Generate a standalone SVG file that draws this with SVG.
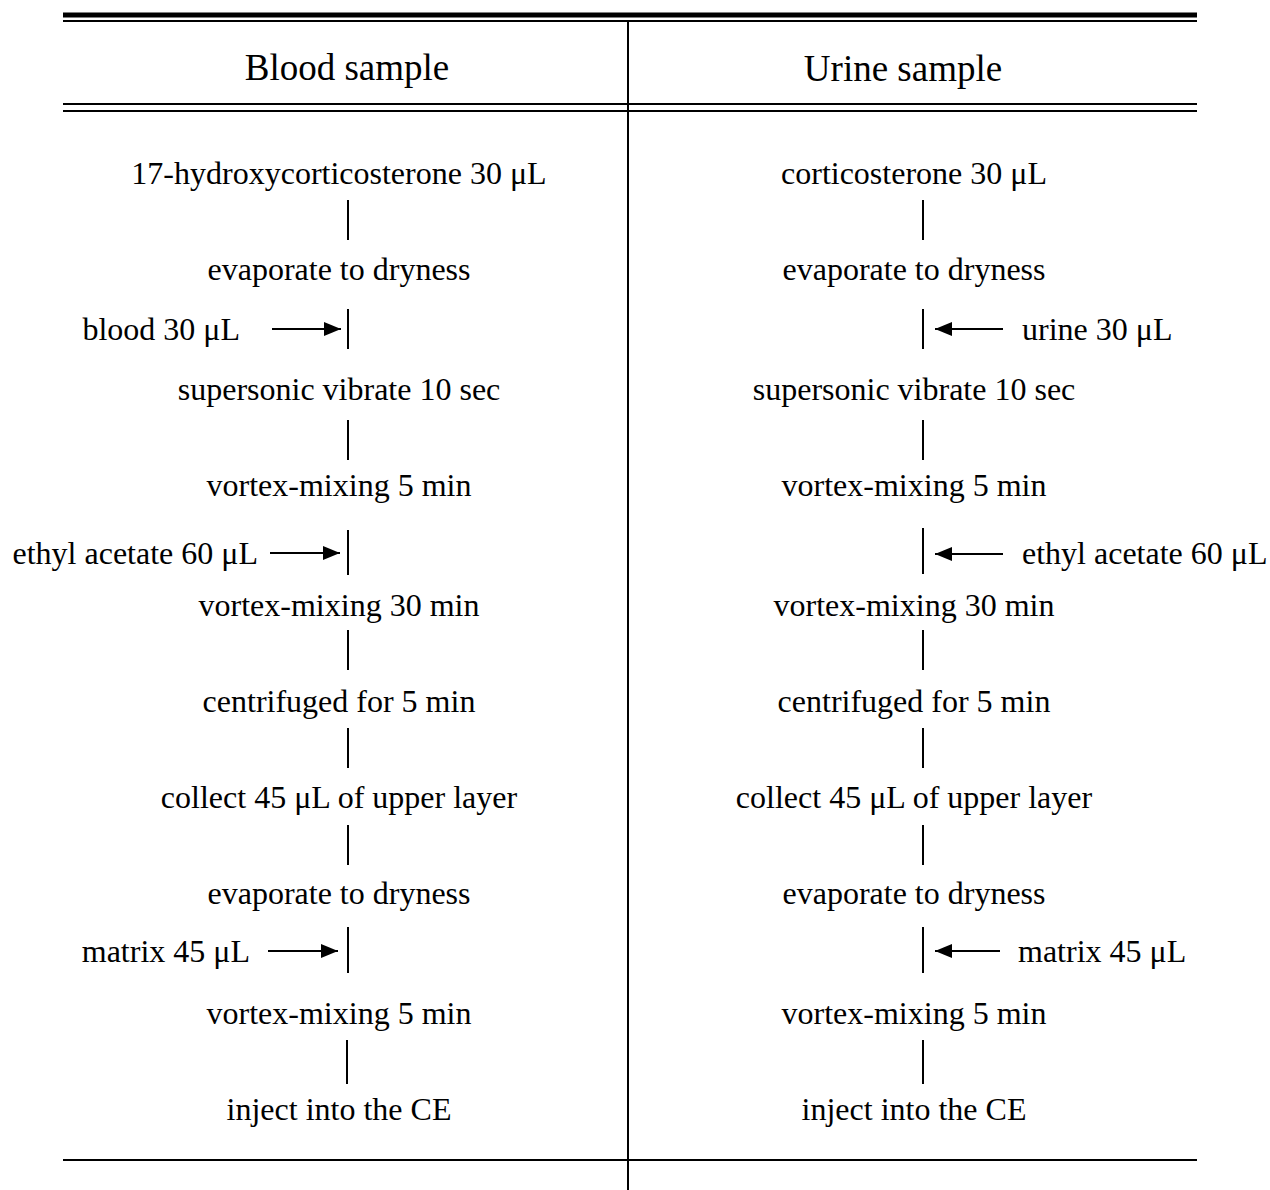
<svg xmlns="http://www.w3.org/2000/svg" width="1270" height="1190" viewBox="0 0 1270 1190">
<style>
text{font-family:"Liberation Serif","Times New Roman",serif;font-size:32px;fill:#000;text-anchor:middle}
.h{font-size:37px}
.l{text-anchor:end}
.r{text-anchor:start}
line{stroke:#000;stroke-width:2}
</style>
<defs>
<marker id="ah2" viewBox="0 0 17 14" refX="17" refY="7" markerWidth="17" markerHeight="14" markerUnits="userSpaceOnUse" orient="auto"><path d="M0,0 L17,7 L0,14 Z" fill="#000"/></marker>
</defs>
<g id="table">
<line x1="63" y1="15" x2="1197" y2="15" style="stroke-width:5"/>
<line x1="63" y1="21" x2="1197" y2="21"/>
<line x1="63" y1="104" x2="1197" y2="104"/>
<line x1="63" y1="111" x2="1197" y2="111"/>
<line x1="63" y1="1160" x2="1197" y2="1160"/>
<line x1="628" y1="20" x2="628" y2="1190"/>
</g>
<g id="header-blood"><text class="h" x="347" y="80">Blood sample</text></g>
<g id="header-urine"><text class="h" x="903" y="81">Urine sample</text></g>
<g id="blood-steps">
<text x="339" y="184">17-hydroxycorticosterone 30 μL</text>
<text x="339" y="280">evaporate to dryness</text>
<text x="339" y="400">supersonic vibrate 10 sec</text>
<text x="339" y="496">vortex-mixing 5 min</text>
<text x="339" y="616">vortex-mixing 30 min</text>
<text x="339" y="712">centrifuged for 5 min</text>
<text x="339" y="808">collect 45 μL of upper layer</text>
<text x="339" y="904">evaporate to dryness</text>
<text x="339" y="1024">vortex-mixing 5 min</text>
<text x="339" y="1120">inject into the CE</text>
</g>
<g id="blood-inputs">
<text class="l" x="240" y="340">blood 30 μL</text>
<text class="l" x="258" y="564">ethyl acetate 60 μL</text>
<text class="l" x="250" y="962">matrix 45 μL</text>
</g>
<g id="urine-steps">
<text x="914" y="184">corticosterone 30 μL</text>
<text x="914" y="280">evaporate to dryness</text>
<text x="914" y="400">supersonic vibrate 10 sec</text>
<text x="914" y="496">vortex-mixing 5 min</text>
<text x="914" y="616">vortex-mixing 30 min</text>
<text x="914" y="712">centrifuged for 5 min</text>
<text x="914" y="808">collect 45 μL of upper layer</text>
<text x="914" y="904">evaporate to dryness</text>
<text x="914" y="1024">vortex-mixing 5 min</text>
<text x="914" y="1120">inject into the CE</text>
</g>
<g id="urine-inputs">
<text class="r" x="1022" y="340">urine 30 μL</text>
<text class="r" x="1022" y="564">ethyl acetate 60 μL</text>
<text class="r" x="1018" y="962">matrix 45 μL</text>
</g>
<g id="connectors">
<line x1="348" y1="200" x2="348" y2="240"/>
<line x1="348" y1="309" x2="348" y2="349"/>
<line x1="348" y1="420" x2="348" y2="460"/>
<line x1="348" y1="530" x2="348" y2="575"/>
<line x1="348" y1="630" x2="348" y2="670"/>
<line x1="348" y1="728" x2="348" y2="768"/>
<line x1="348" y1="825" x2="348" y2="865"/>
<line x1="348" y1="927" x2="348" y2="973"/>
<line x1="347" y1="1040" x2="347" y2="1084"/>
<line x1="272" y1="329" x2="341" y2="329" marker-end="url(#ah2)"/>
<line x1="270" y1="553" x2="340" y2="553" marker-end="url(#ah2)"/>
<line x1="268" y1="951" x2="338" y2="951" marker-end="url(#ah2)"/>
<line x1="923" y1="200" x2="923" y2="240"/>
<line x1="923" y1="309" x2="923" y2="349"/>
<line x1="923" y1="420" x2="923" y2="460"/>
<line x1="923" y1="528" x2="923" y2="574"/>
<line x1="923" y1="630" x2="923" y2="670"/>
<line x1="923" y1="728" x2="923" y2="768"/>
<line x1="923" y1="825" x2="923" y2="865"/>
<line x1="923" y1="927" x2="923" y2="973"/>
<line x1="923" y1="1040" x2="923" y2="1084"/>
<line x1="1003" y1="329" x2="935" y2="329" marker-end="url(#ah2)"/>
<line x1="1003" y1="554" x2="935" y2="554" marker-end="url(#ah2)"/>
<line x1="1000" y1="951" x2="935" y2="951" marker-end="url(#ah2)"/>
</g>
</svg>
